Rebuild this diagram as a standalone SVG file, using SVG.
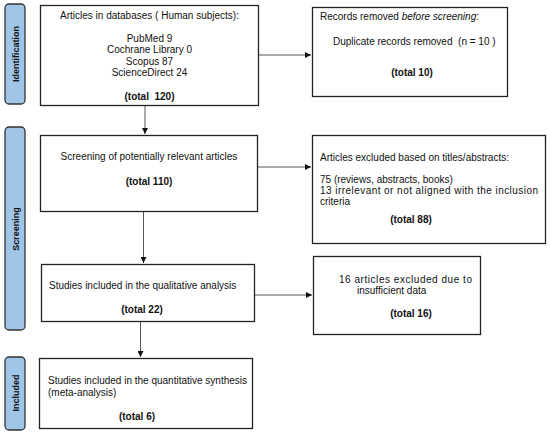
<svg xmlns="http://www.w3.org/2000/svg" width="550" height="434" viewBox="0 0 550 434">
<style>
.box{fill:#fff;stroke:#222;stroke-width:1.3}
.side{fill:#9fc5e8;stroke:#333;stroke-width:1.3}
text{font-family:"Liberation Sans",Arial,sans-serif;font-size:10px;fill:#111;white-space:pre}
.b{font-weight:bold}
.sl{font-weight:bold;font-size:9px;text-anchor:middle}
.c{text-anchor:middle}
.ln{stroke:#555;stroke-width:1;fill:none}
</style>
<defs>
<marker id="ah" viewBox="0 0 10 10" refX="10" refY="5" markerWidth="6" markerHeight="6" orient="auto" markerUnits="userSpaceOnUse">
<path d="M0,0 L10,5 L0,10 z" fill="#111"/>
</marker>
</defs>
<g id="side-identification">
<rect class="side" x="5" y="4" width="20" height="100" rx="4"/>
<text class="sl" transform="translate(18.5,54) rotate(-90)">Identification</text>
</g>
<g id="side-screening">
<rect class="side" x="5" y="127" width="20" height="203" rx="4"/>
<text class="sl" transform="translate(18.5,229) rotate(-90)">Screening</text>
</g>
<g id="side-included">
<rect class="side" x="5" y="357" width="20" height="73" rx="4"/>
<text class="sl" transform="translate(18.5,393) rotate(-90)">Included</text>
</g>
<g id="n1">
<rect class="box" x="40.5" y="5.5" width="218" height="100"/>
<text class="c" x="149.5" y="19">Articles in databases ( Human subjects):</text>
<text class="c" x="149.5" y="41.5">PubMed 9</text>
<text class="c" x="149.5" y="53">Cochrane Library 0</text>
<text class="c" x="149.5" y="64.5">Scopus 87</text>
<text class="c" x="149.5" y="76">ScienceDirect 24</text>
<text class="c b" x="149.5" y="100" xml:space="preserve">(total  120)</text>
</g>
<g id="n2">
<rect class="box" x="312.5" y="7.5" width="195" height="89"/>
<text x="320" y="20">Records removed <tspan font-style="italic">before screening</tspan>:</text>
<text x="333" y="45" xml:space="preserve">Duplicate records removed  (n = 10 )</text>
<text class="c b" x="412" y="76">(total 10)</text>
</g>
<g id="n3">
<rect class="box" x="40.5" y="135.5" width="217" height="76"/>
<text class="c" x="149" y="160">Screening of potentially relevant articles</text>
<text class="c b" x="149" y="185">(total 110)</text>
</g>
<g id="n4">
<rect class="box" x="312.5" y="135.5" width="233" height="108"/>
<text x="320" y="161">Articles excluded based on titles/abstracts:</text>
<text x="320" y="183">75 (reviews, abstracts, books)</text>
<text x="320" y="194" textLength="218" lengthAdjust="spacing">13 irrelevant or not aligned with the inclusion</text>
<text x="320" y="205">criteria</text>
<text class="c b" x="411" y="223">(total 88)</text>
</g>
<g id="n5">
<rect class="box" x="41.5" y="264.5" width="213" height="57"/>
<text x="49" y="289">Studies included in the qualitative analysis</text>
<text class="c b" x="142" y="313">(total 22)</text>
</g>
<g id="n6">
<rect class="box" x="313.5" y="256.5" width="167" height="78"/>
<text x="339" y="283" textLength="133" lengthAdjust="spacing">16 articles excluded due to</text>
<text x="357" y="294">insufficient data</text>
<text class="c b" x="411" y="317">(total 16)</text>
</g>
<g id="n7">
<rect class="box" x="39.5" y="358.5" width="213" height="70"/>
<text x="48" y="384">Studies included in the quantitative synthesis</text>
<text x="48" y="395.5">(meta-analysis)</text>
<text class="c b" x="137" y="420">(total 6)</text>
</g>
<g id="connectors">
<line class="ln" x1="145" y1="106" x2="145" y2="134" marker-end="url(#ah)"/>
<line class="ln" x1="259" y1="55" x2="311" y2="55" marker-end="url(#ah)"/>
<line class="ln" x1="143.5" y1="212" x2="143.5" y2="263" marker-end="url(#ah)"/>
<line class="ln" x1="258" y1="167" x2="311" y2="167" marker-end="url(#ah)"/>
<line class="ln" x1="140.5" y1="322" x2="140.5" y2="357" marker-end="url(#ah)"/>
<line class="ln" x1="255" y1="295" x2="312" y2="295" marker-end="url(#ah)"/>
</g>
</svg>
